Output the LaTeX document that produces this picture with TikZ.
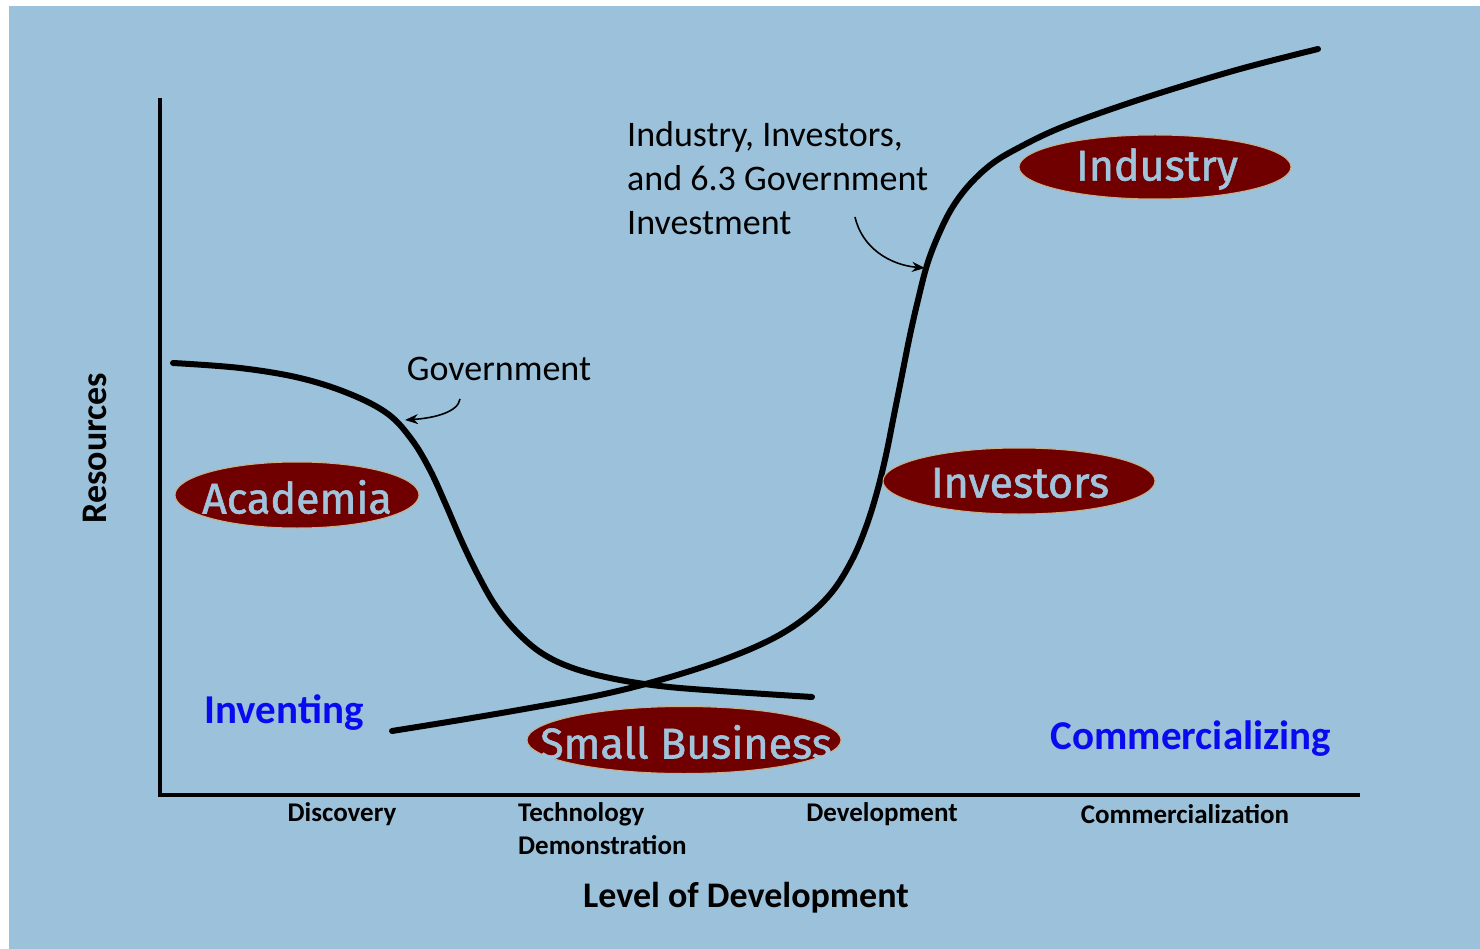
\documentclass[tikz,border=0pt]{standalone}
\usepackage{fontspec}
\setmainfont{Carlito}
\newfontfamily\ovalfont[FakeBold=1.3]{Fira Sans}
\usetikzlibrary{shapes.geometric,arrows.meta}
\definecolor{bgblue}{RGB}{155,194,218}
\definecolor{ovalred}{RGB}{112,0,0}
\definecolor{ovaltext}{RGB}{160,196,220}
\definecolor{ovalrim}{RGB}{200,176,138}
\definecolor{phaseblue}{RGB}{10,10,240}
\tikzset{
  oval/.style={ellipse, fill=ovalred, draw=ovalrim, line width=1pt, inner sep=0pt},
  ovaltxt/.style={text=ovaltext, inner sep=0pt, font=\ovalfont\fontsize{43}{46}\selectfont},
  curve/.style={line width=6pt, line cap=round, line join=round},
  axis/.style={line width=4pt},
  pointer/.style={line width=1.6pt, -{Stealth[length=13pt,width=10pt]}},
  stage/.style={font=\bfseries\fontsize{27}{33}\selectfont},
  note/.style={font=\fontsize{36}{44}\selectfont},
  phase/.style={text=phaseblue, font=\bfseries\fontsize{41}{44}\selectfont}
}
\begin{document}
\begin{tikzpicture}[x=1pt,y=-1pt]
\useasboundingbox (0,0) rectangle (1480,949);
\fill[white] (0,0) rectangle (1480,949);
\fill[bgblue] (9,6) rectangle (1480,949);
% axes
\coordinate (ytop) at (160,98);
\coordinate (orig) at (160,795);
\coordinate (xend) at (1360,795);
\draw[axis] (ytop) -- (orig) -- (xend);
% declining curve (academia / government)
\draw[curve] plot[smooth, tension=0.6] coordinates {(173,363) (240,368) (300,378) (350,394) (388,414) (412,440) (430,470) (446,505) (462,542) (478,575) (495,605) (515,630) (540,652) (570,667) (610,678) (660,686) (720,691) (812,697)};
% rising curve (small business / investors / industry)
\draw[curve] plot[smooth, tension=0.6] coordinates {(392,731) (460,720) (530,708) (600,695) (660,680) (720,661) (770,640) (805,618) (832,592) (852,560) (866,527) (877,492) (886,455) (894,415) (902,375) (910,335) (918,300) (927,265) (938,236) (952,208) (970,184) (993,163) (1020,147) (1055,130) (1100,113) (1160,93) (1240,69) (1318,49)};
% ovals
\node[oval, minimum width=244pt, minimum height=66pt] (acad) at (297,495) {};
\node[ovaltxt] (acadt) at (297,497) {Academia};
\node[oval, minimum width=272pt, minimum height=64pt] (indu) at (1155,167) {};
\node[ovaltxt] (indut) at (1157,169) {Industry};
\node[oval, minimum width=272pt, minimum height=66pt] (inve) at (1019,481) {};
\node[ovaltxt] (invet) at (1020,483) {Investors};
\node[oval, minimum width=314pt, minimum height=67pt] (smal) at (684,740) {};
\node[ovaltxt] (smalt) at (686,742) {Small Business};
% annotations
\node[note, anchor=center] (gov) at (499,369) {Government};
\coordinate (govtail) at (460,399);
\coordinate (govhead) at (405,420);
\draw[pointer] (govtail) .. controls (458,412) and (435,418) .. (govhead);
\node[note, align=left, anchor=north west, inner sep=0pt] (inv) at (627,121) {Industry, Investors,\\and 6.3 Government\\Investment};
\coordinate (invtail) at (855,217);
\coordinate (invhead) at (925,268);
\draw[pointer] (invtail) .. controls (862,248) and (890,265) .. (invhead);
\node[font=\bfseries\fontsize{36}{40}\selectfont, rotate=90] (res) at (95,448) {Resources};
\node[phase] (inventing) at (284,713) {Inventing};
\node[phase] (comm) at (1191,739) {Commercializing};
% stages
\node[stage] (disc) at (342,814) {Discovery};
\node[stage, align=left, anchor=north west, inner sep=0pt] (tech) at (518,802) {Technology\\Demonstration};
\node[stage] (dev) at (882,814) {Development};
\node[stage] (comz) at (1185,814) {Commercialization};
\node[font=\bfseries\fontsize{36}{40}\selectfont] (level) at (746,898) {Level of Development};
\end{tikzpicture}
\end{document}
